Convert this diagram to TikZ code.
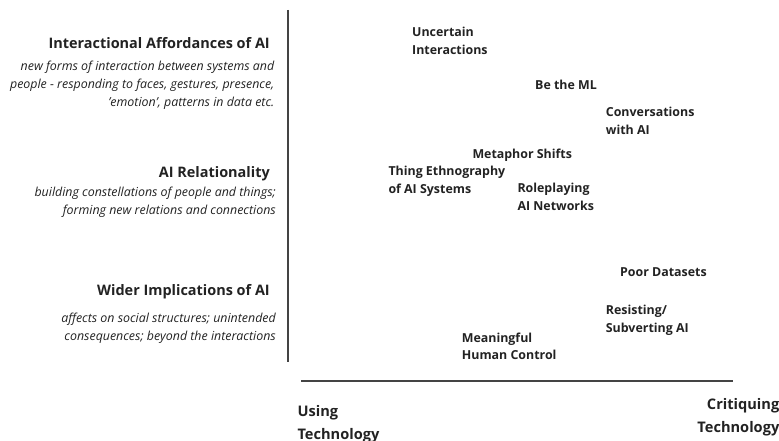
\documentclass[tikz,border=0pt]{standalone}
\usepackage{fontspec}
\setmainfont{Open Sans}
\definecolor{txt}{HTML}{222222}
\definecolor{axis}{HTML}{444444}
\tikzset{
  heading/.style={anchor=east, inner sep=0pt, text=txt, font=\fontsize{14.45}{18}\selectfont\bfseries},
  subtext/.style={anchor=east, inner sep=0pt, text=txt, align=right, font=\fontsize{12.4}{18}\selectfont\itshape},
  item/.style={anchor=west, inner sep=0pt, text=txt, align=left, font=\fontsize{12.4}{17.6}\selectfont\bfseries},
  axislabel/.style={inner sep=0pt, text=txt, font=\fontsize{14.6}{23}\selectfont\bfseries},
  axisline/.style={draw=axis, line width=2pt}
}
\begin{document}
\begin{tikzpicture}[x=1pt,y=-1pt]
\useasboundingbox (0,0) rectangle (779,441);
% axes
\coordinate (vtop) at (288.3,10);
\coordinate (vbot) at (288.3,361.7);
\coordinate (hl) at (301,381.3);
\coordinate (hr) at (732.5,381.3);
\draw[axisline] (vtop) -- (vbot);
\draw[axisline] (hl) -- (hr);
% left headings
\node[heading] (h1) at (270,43.3) {Interactional Affordances of AI};
\node[subtext] (s1) at (274.5,85.5) {new forms of interaction between systems and\\people - responding to faces, gestures, presence,\\'emotion', patterns in data etc.};
\node[heading] (h2) at (270,174) {AI Relationality};
\node[subtext] (s2) at (276,201.8) {building constellations of people and things;\\forming new relations and connections};
\node[heading] (h3) at (270,291.7) {Wider Implications of AI};
\node[subtext] (s3) at (276,328.5) {affects on social structures; unintended\\consequences; beyond the interactions};
% items
\node[item] (ui) at (412,40.8) {Uncertain\\Interactions};
\node[item] (ml) at (535,85) {Be the ML};
\node[item] (cv) at (605.7,120.8) {Conversations\\with AI};
\node[item] (ms) at (472.3,155) {Metaphor Shifts};
\node[item] (te) at (388.3,181.2) {Thing Ethnography\\of AI Systems};
\node[item] (rp) at (517.3,196.7) {Roleplaying\\AI Networks};
\node[item] (pd) at (620,271.7) {Poor Datasets};
\node[item] (rs) at (605.7,320.3) {Resisting/\\Subverting AI};
\node[item] (mh) at (461.7,346.2) {Meaningful\\Human Control};
% axis labels
\node[axislabel, anchor=west, align=left] (ut) at (297.3,423.8) {Using\\Technology};
\node[axislabel, anchor=east, align=right] (ct) at (779.5,417.4) {Critiquing\\Technology};
\end{tikzpicture}
\end{document}
